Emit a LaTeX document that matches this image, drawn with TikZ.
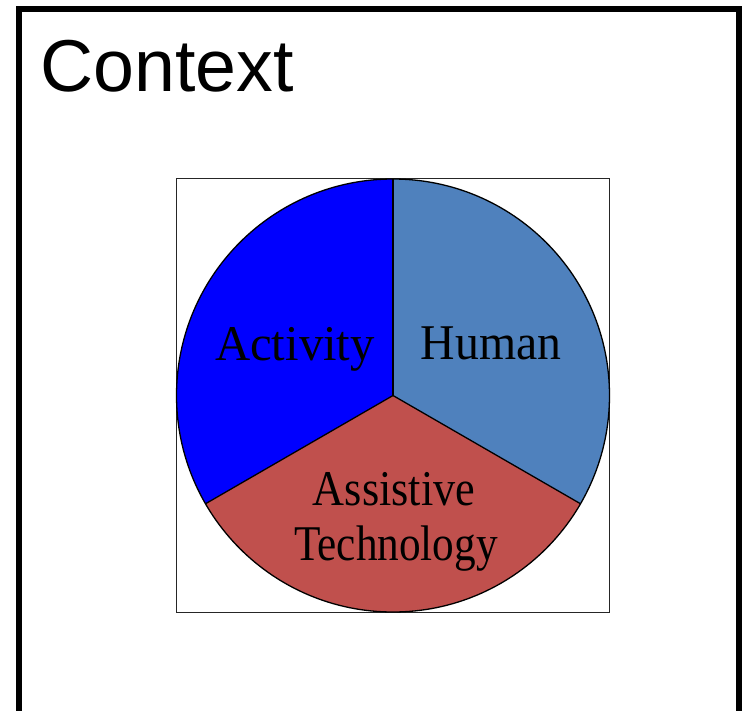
\documentclass[tikz,border=0pt]{standalone}
\usepackage{fontspec}
\setmainfont{Liberation Serif}
\newfontfamily\ctxfont{Liberation Sans}
\newcommand{\sqz}[2]{\scalebox{#1}[1]{#2}}
\begin{document}
\begin{tikzpicture}[x=1pt,y=-1pt,
  frame/.style={line width=6pt},
  sq/.style={draw=black!85,line width=1.5pt},
  slice/.style={draw=black,line width=1.3pt,line join=round},
  lbl/.style={anchor=base,inner sep=0pt,font=\fontsize{50}{55}\selectfont},
  ttl/.style={anchor=base west,inner sep=0pt,font=\ctxfont\fontsize{73.5}{80}\selectfont}]
\useasboundingbox (0,0) rectangle (744,710);
\clip (0,0) rectangle (744,710);
\fill[white] (0,0) rectangle (744,710);
% outer frame
\draw[frame] (19,730) -- (19,9) -- (738.7,9) -- (738.7,730);
\node[ttl] (ctx) at (40.5,91.5) {Context};
% inner square
\draw[sq] (176.5,178.5) rectangle (609.5,612.5);
\coordinate (c) at (393,395.5);
\def\R{216.5}
\fill[fill={rgb,255:red,0;green,0;blue,255}] (c) -- ++(270:\R) arc[start angle=270,end angle=150,radius=\R] -- cycle;
\fill[fill={rgb,255:red,79;green,129;blue,189}] (c) -- ++(270:\R) arc[start angle=-90,end angle=30,radius=\R] -- cycle;
\fill[fill={rgb,255:red,192;green,80;blue,77}] (c) -- ++(30:\R) arc[start angle=30,end angle=150,radius=\R] -- cycle;
\draw[slice] (c) circle[radius=\R];
\draw[slice] (c) -- ++(270:\R);
\draw[slice] (c) -- ++(30:\R);
\draw[slice] (c) -- ++(150:\R);
\node[lbl] (act) at (295,360) {\sqz{0.975}{Activity}};
\node[lbl] (hum) at (491,359) {\sqz{0.955}{Human}};
\node[lbl] (at1) at (394,505) {\sqz{0.885}{Assistive}};
\node[lbl] (at2) at (396,560) {\sqz{0.865}{Technology}};
\end{tikzpicture}
\end{document}
